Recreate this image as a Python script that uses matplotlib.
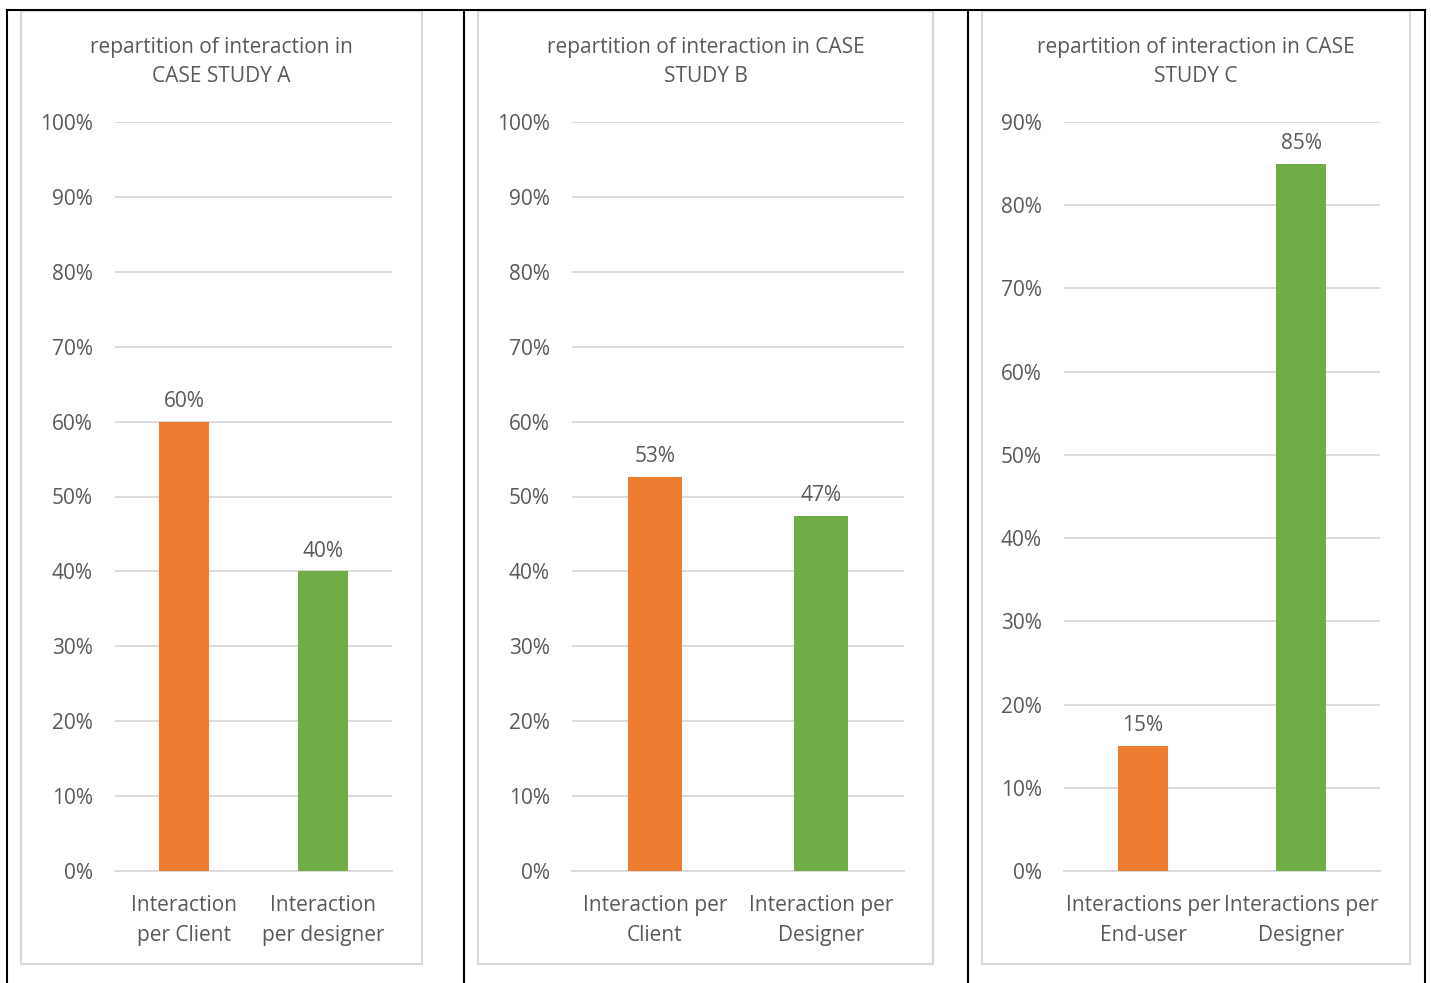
import matplotlib
matplotlib.use("Agg")
import matplotlib.pyplot as plt
from matplotlib.lines import Line2D
from matplotlib.patches import Rectangle

plt.rcParams['font.family'] = ['Open Sans', 'DejaVu Sans']

W, H = 1431, 983
DPI = 100

titles = [
    "repartition of interaction in\nCASE STUDY A",
    "repartition of interaction in CASE\nSTUDY B",
    "repartition of interaction in CASE\nSTUDY C",
]
categories_a = ["Interaction\nper Client", "Interaction\nper designer"]
categories_b = ["Interaction per\nClient", "Interaction per\nDesigner"]
categories_c = ["Interactions per\nEnd-user", "Interactions per\nDesigner"]
values_a = [0.60, 0.40]
values_b = [0.526, 0.474]
values_c = [0.15, 0.85]
ymax = [1.0, 1.0, 0.9]

colors = ["#ED7D31", "#70AD47"]
text_color = "#595959"
grid_color = "#D9D9D9"

# layout in pixels: (frame left, frame right, axes left, axes right, bar width)
panels = [
    (21, 422, 115, 392, 0.36),
    (478, 933, 572, 904, 0.32),
    (982, 1410, 1064, 1380, 0.32),
]
ax_top, ax_bottom = 122, 871
frame_top, frame_bottom = 11, 964
FS = 15


def fx(x):
    return x / W


def fy(y):
    return 1 - y / H


fig = plt.figure(figsize=(W / DPI, H / DPI), dpi=DPI)

data = [
    (categories_a, values_a),
    (categories_b, values_b),
    (categories_c, values_c),
]

for i, (cats, vals) in enumerate(data):
    fl, fr, al, ar, bw = panels[i]

    # chart frame
    fig.patches.append(Rectangle((fx(fl), fy(frame_bottom)), fx(fr) - fx(fl),
                                 fy(frame_top) - fy(frame_bottom),
                                 transform=fig.transFigure, fill=False,
                                 edgecolor=grid_color, linewidth=1.5))

    ax = fig.add_axes([fx(al), fy(ax_bottom), fx(ar) - fx(al),
                       fy(ax_top) - fy(ax_bottom)])
    x = list(range(len(cats)))
    bars = ax.bar(x, vals, width=bw, color=colors, zorder=3)
    ax.set_xlim(-0.5, len(cats) - 0.5)
    ax.set_ylim(0, ymax[i])
    ticks = [t / 10 for t in range(int(round(ymax[i] * 10)) + 1)]
    ax.set_yticks(ticks)
    ax.set_yticklabels([f"{round(t * 100)}%" for t in ticks])
    ax.set_xticks(x)
    ax.set_xticklabels(cats, linespacing=1.56)
    ax.grid(axis='y', color=grid_color, linewidth=1.3, zorder=0)
    for s in ['top', 'right', 'left']:
        ax.spines[s].set_visible(False)
    ax.spines['bottom'].set_color(grid_color)
    ax.spines['bottom'].set_linewidth(1.3)
    ax.tick_params(axis='y', length=0, pad=16, labelsize=FS, labelcolor=text_color)
    ax.tick_params(axis='x', length=0, pad=17.5, labelsize=FS, labelcolor=text_color)

    for b, v in zip(bars, vals):
        ax.annotate(f"{v * 100:.0f}%", (b.get_x() + b.get_width() / 2, v),
                    xytext=(0, 7), textcoords='offset points',
                    ha='center', va='bottom', fontsize=FS, color=text_color)

    fig.text(fx((fl + fr) / 2), fy(62), titles[i], ha='center', va='center',
             fontsize=FS, color=text_color, linespacing=1.5)

# table borders
fig.lines.append(Line2D([fx(7), fx(1425)], [fy(10), fy(10)],
                        transform=fig.transFigure, color='black', linewidth=1.5))
for xv in [7, 464, 968, 1425]:
    fig.lines.append(Line2D([fx(xv), fx(xv)], [fy(10), fy(983)],
                            transform=fig.transFigure, color='black', linewidth=1.5))

fig.savefig("out.png", dpi=DPI)
